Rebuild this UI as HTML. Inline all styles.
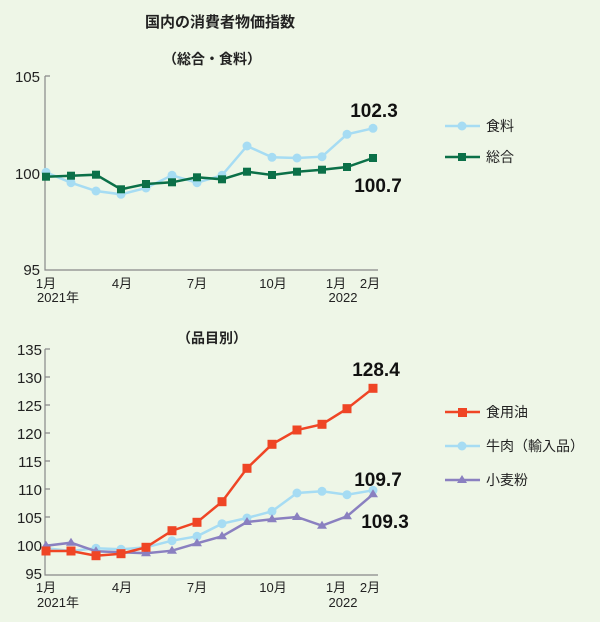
<!DOCTYPE html>
<html><head><meta charset="utf-8"><style>
body{margin:0;background:#eef6e7;}
svg{display:block;font-family:"Liberation Sans","Noto Sans CJK JP",sans-serif;}
</style></head><body>
<svg width="600" height="622" viewBox="0 0 600 622">
<rect width="600" height="622" fill="#eef6e7"/>
<text x="220" y="27" font-size="15" font-weight="bold" text-anchor="middle" fill="#222">国内の消費者物価指数</text>
<text x="212" y="64" font-size="14" font-weight="bold" text-anchor="middle" fill="#222">（総合・食料）</text>
<g stroke="#888" stroke-width="1.2" fill="none">
<path d="M45 76V270H378"/>
<path d="M45 76h5M45 173h5"/>
<path d="M45 349V575H378"/>
<path d="M45 349h5M45 377h5M45 405h5M45 433h5M45 461h5M45 489h5M45 517h5M45 545h5"/>
</g>
<g font-size="15" fill="#222" text-anchor="end">
<text x="40" y="82">105</text><text x="40" y="179">100</text><text x="40" y="275">95</text>
<text x="42" y="355">135</text><text x="42" y="383">130</text><text x="42" y="411">125</text><text x="42" y="439">120</text><text x="42" y="467">115</text><text x="42" y="495">110</text><text x="42" y="523">105</text><text x="42" y="551">100</text><text x="42" y="579">95</text>
</g>
<g font-size="13" fill="#222" text-anchor="middle">
<text x="46" y="288">1月</text><text x="58" y="302">2021年</text><text x="122" y="288">4月</text><text x="197" y="288">7月</text><text x="273" y="288">10月</text><text x="336" y="288">1月</text><text x="370" y="288">2月</text><text x="343" y="302">2022</text>
<text x="46" y="592">1月</text><text x="58" y="607">2021年</text><text x="122" y="592">4月</text><text x="197" y="592">7月</text><text x="273" y="592">10月</text><text x="336" y="592">1月</text><text x="370" y="592">2月</text><text x="343" y="607">2022</text>
</g>
<text x="212" y="343" font-size="14" font-weight="bold" text-anchor="middle" fill="#222">（品目別）</text>
<g font-size="19" font-weight="bold" fill="#111" text-anchor="middle">
<text x="374" y="117">102.3</text><text x="378" y="192">100.7</text>
<text x="376" y="376">128.4</text><text x="378" y="486">109.7</text><text x="385" y="528">109.3</text>
</g>
<polyline fill="none" stroke="#a6dcf3" stroke-width="2.5" points="46,172.3 71,182.7 96,191 121,194.3 146,188 172,175.3 197,182.7 222,175.3 247,146 272,157.3 297,158 322,156.7 347,134.3 373,128.3"/>
<g fill="#a6dcf3"><circle cx="46" cy="172.3" r="4.5"/><circle cx="71" cy="182.7" r="4.5"/><circle cx="96" cy="191" r="4.5"/><circle cx="121" cy="194.3" r="4.5"/><circle cx="146" cy="188" r="4.5"/><circle cx="172" cy="175.3" r="4.5"/><circle cx="197" cy="182.7" r="4.5"/><circle cx="222" cy="175.3" r="4.5"/><circle cx="247" cy="146" r="4.5"/><circle cx="272" cy="157.3" r="4.5"/><circle cx="297" cy="158" r="4.5"/><circle cx="322" cy="156.7" r="4.5"/><circle cx="347" cy="134.3" r="4.5"/><circle cx="373" cy="128.3" r="4.5"/></g>
<polyline fill="none" stroke="#0b7048" stroke-width="2.5" points="46,176.7 71,175.7 96,174.7 121,189.3 146,184 172,182.3 197,177.3 222,179.3 247,171.7 272,175 297,171.7 322,169.7 347,167 373,158"/>
<g fill="#0b7048"><rect x="42" y="172.7" width="8" height="8"/><rect x="67" y="171.7" width="8" height="8"/><rect x="92" y="170.7" width="8" height="8"/><rect x="117" y="185.3" width="8" height="8"/><rect x="142" y="180" width="8" height="8"/><rect x="168" y="178.3" width="8" height="8"/><rect x="193" y="173.3" width="8" height="8"/><rect x="218" y="175.3" width="8" height="8"/><rect x="243" y="167.7" width="8" height="8"/><rect x="268" y="171" width="8" height="8"/><rect x="293" y="167.7" width="8" height="8"/><rect x="318" y="165.7" width="8" height="8"/><rect x="343" y="163" width="8" height="8"/><rect x="369" y="154" width="8" height="8"/></g>
<polyline fill="none" stroke="#a6dcf3" stroke-width="2.5" points="46,548.3 71,551 96,548.3 121,549.3 146,547.3 172,540.7 197,536.3 222,523.7 247,518 272,511.3 297,493 322,491.3 347,494.7 373,490.3"/>
<g fill="#a6dcf3"><circle cx="96" cy="548.3" r="4.5"/><circle cx="121" cy="549.3" r="4.5"/><circle cx="172" cy="540.7" r="4.5"/><circle cx="197" cy="536.3" r="4.5"/><circle cx="222" cy="523.7" r="4.5"/><circle cx="247" cy="518" r="4.5"/><circle cx="272" cy="511.3" r="4.5"/><circle cx="297" cy="493" r="4.5"/><circle cx="322" cy="491.3" r="4.5"/><circle cx="347" cy="494.7" r="4.5"/><circle cx="373" cy="490.3" r="4.5"/></g>
<polyline fill="none" stroke="#8a80c0" stroke-width="2.5" points="46,545.7 71,542.7 96,551.3 121,552.3 146,553.3 172,550.7 197,543.3 222,536.3 247,522 272,519.3 297,517 322,525.7 347,516.3 373,494.3"/>
<g fill="#8a80c0"><path d="M46 540.7l5 8h-10z"/><path d="M71 537.7l5 8h-10z"/><path d="M96 546.3l5 8h-10z"/><path d="M146 548.3l5 8h-10z"/><path d="M172 545.7l5 8h-10z"/><path d="M197 538.3l5 8h-10z"/><path d="M222 531.3l5 8h-10z"/><path d="M247 517l5 8h-10z"/><path d="M272 514.3l5 8h-10z"/><path d="M297 512l5 8h-10z"/><path d="M322 520.7l5 8h-10z"/><path d="M347 511.3l5 8h-10z"/><path d="M373 489.3l5 8h-10z"/></g>
<polyline fill="none" stroke="#ef4525" stroke-width="2.5" points="46,551 71,551 96,555.7 121,553.7 146,547.3 172,530.7 197,522.3 222,501.7 247,468.3 272,444.3 297,430 322,424.3 347,408.7 373,388.3"/>
<g fill="#ef4525"><rect x="41.5" y="546.5" width="9" height="9"/><rect x="66.5" y="546.5" width="9" height="9"/><rect x="91.5" y="551.2" width="9" height="9"/><rect x="116.5" y="549.2" width="9" height="9"/><rect x="141.5" y="542.8" width="9" height="9"/><rect x="167.5" y="526.2" width="9" height="9"/><rect x="192.5" y="517.8" width="9" height="9"/><rect x="217.5" y="497.2" width="9" height="9"/><rect x="242.5" y="463.8" width="9" height="9"/><rect x="267.5" y="439.8" width="9" height="9"/><rect x="292.5" y="425.5" width="9" height="9"/><rect x="317.5" y="419.8" width="9" height="9"/><rect x="342.5" y="404.2" width="9" height="9"/><rect x="368.5" y="383.8" width="9" height="9"/></g>
<g font-size="14" fill="#222">
<line x1="445" y1="126" x2="480" y2="126" stroke="#a6dcf3" stroke-width="2.5"/><circle cx="462" cy="126" r="4.5" fill="#a6dcf3"/><text x="486" y="131">食料</text>
<line x1="445" y1="157" x2="480" y2="157" stroke="#0b7048" stroke-width="2.5"/><rect x="458" y="153" width="8" height="8" fill="#0b7048"/><text x="486" y="162">総合</text>
<line x1="445" y1="412" x2="480" y2="412" stroke="#ef4525" stroke-width="2.5"/><rect x="458" y="408" width="9" height="9" fill="#ef4525"/><text x="486" y="417">食用油</text>
<line x1="445" y1="446" x2="480" y2="446" stroke="#a6dcf3" stroke-width="2.5"/><circle cx="462" cy="446" r="4.5" fill="#a6dcf3"/><text x="486" y="451">牛肉（輸入品）</text>
<line x1="445" y1="480" x2="480" y2="480" stroke="#8a80c0" stroke-width="2.5"/><path d="M462 475l5 8h-10z" fill="#8a80c0"/><text x="486" y="485">小麦粉</text>
</g>
</svg>
</body></html>
